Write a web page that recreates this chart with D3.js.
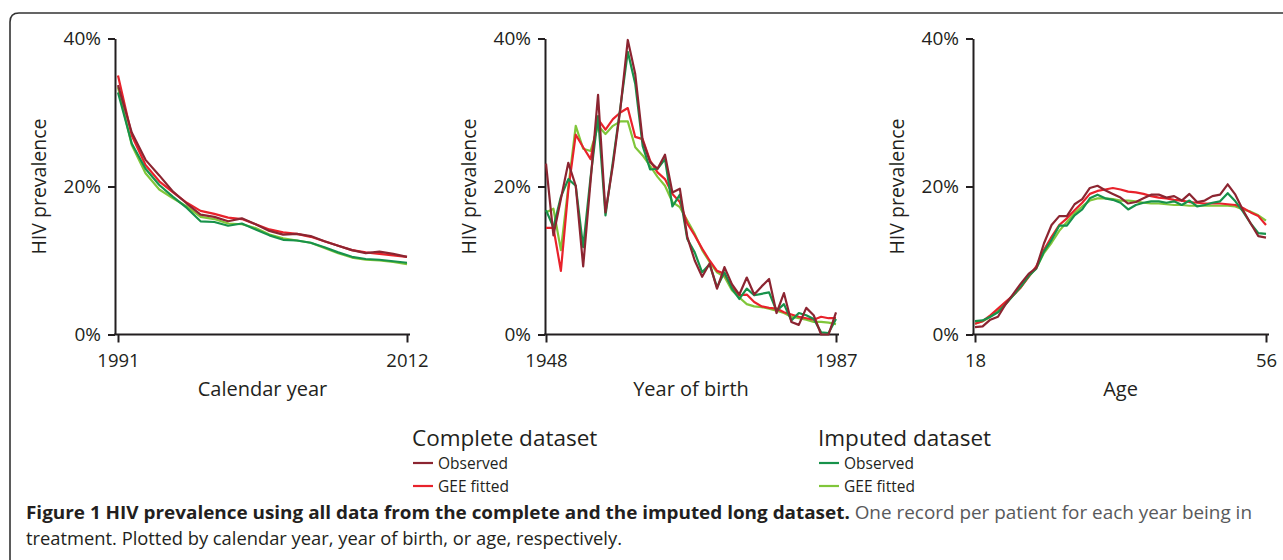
<!DOCTYPE html>
<html>
<head>
<meta charset="utf-8">
<script src="https://cdn.jsdelivr.net/npm/d3@7"></script>
<style>
  body { margin: 0; background: #fff; }
  svg { display: block; }
  text { font-family: "Open Sans", "Noto Sans", sans-serif; fill: #231f20; }
</style>
</head>
<body>
<svg id="chart"></svg>
<script>
// x categories
let calendarYears = d3.range(1991, 2013);
let birthYears = d3.range(1948, 1988);
let ages = d3.range(18, 57);

// HIV prevalence (%), by calendar year
let calObsComplete = [33.7, 27.3, 23.6, 21.5, 19.3, 17.7, 16.2, 15.9, 15.3, 15.7, 14.9, 14.0, 13.5, 13.6, 13.3, 12.6, 12.0, 11.4, 11.0, 11.2, 10.9, 10.5];
let calGeeComplete = [35.0, 26.9, 22.9, 20.7, 19.2, 17.8, 16.7, 16.3, 15.8, 15.6, 14.9, 14.2, 13.8, 13.6, 13.2, 12.6, 12.0, 11.4, 11.1, 10.9, 10.7, 10.5];
let calObsImputed = [32.7, 25.8, 22.4, 20.2, 18.6, 17.1, 15.3, 15.2, 14.7, 15.0, 14.2, 13.4, 12.8, 12.7, 12.4, 11.8, 11.1, 10.5, 10.2, 10.1, 9.9, 9.7];
let calGeeImputed = [33.4, 25.6, 21.8, 19.6, 18.4, 17.3, 15.9, 15.6, 15.0, 14.9, 14.4, 13.5, 13.0, 12.7, 12.4, 11.7, 11.0, 10.4, 10.1, 10.0, 9.8, 9.5];

// by year of birth
let birthObsComplete = [23.1, 13.4, 18.3, 23.2, 20.1, 9.2, 20.8, 32.4, 16.5, 22.9, 30.5, 39.8, 35.2, 26.2, 23.3, 22.4, 24.3, 19.2, 19.7, 13.2, 10.0, 7.8, 9.6, 6.2, 9.1, 6.8, 5.4, 7.7, 5.4, 6.5, 7.5, 2.9, 5.6, 1.7, 1.3, 3.6, 2.6, 0, 0, 3.0];
let birthGeeComplete = [14.4, 14.4, 8.6, 19.5, 27.0, 25.3, 23.7, 29.1, 27.7, 29.1, 30.0, 30.6, 26.7, 26.4, 23.5, 21.9, 21.0, 19.0, 17.9, 15.0, 13.4, 11.6, 10.0, 8.6, 8.2, 6.4, 5.3, 5.4, 4.4, 3.8, 3.6, 3.5, 3.0, 2.7, 2.4, 2.2, 2.0, 2.4, 2.2, 2.2];
let birthObsImputed = [16.8, 14.5, 18.6, 21.0, 20.1, 11.8, 21.3, 29.5, 16.1, 23.4, 30.7, 38.2, 33.9, 25.5, 22.3, 22.4, 23.7, 17.3, 18.9, 12.9, 11.1, 8.4, 9.5, 6.4, 8.4, 6.2, 4.8, 6.2, 5.3, 5.5, 5.7, 3.2, 4.1, 1.9, 2.9, 2.6, 2.1, 0.3, 0.2, 2.1];
let birthGeeImputed = [16.5, 17.0, 11.4, 19.9, 28.2, 25.1, 24.8, 28.2, 27.1, 28.2, 28.8, 28.8, 25.3, 24.2, 22.8, 21.3, 20.1, 17.9, 17.2, 15.4, 13.6, 11.4, 9.8, 8.4, 7.8, 6.0, 5.0, 4.1, 3.8, 3.7, 3.5, 3.2, 2.9, 2.4, 2.2, 2.0, 1.7, 1.7, 1.6, 1.4];

// by age
let ageObsComplete = [1.0, 1.1, 2.0, 2.4, 4.1, 5.5, 6.9, 8.2, 9.0, 12.3, 14.8, 16.0, 16.0, 17.6, 18.3, 19.8, 20.1, 19.5, 19.0, 18.5, 17.7, 17.9, 18.4, 18.9, 18.9, 18.5, 18.7, 18.1, 19.0, 17.9, 18.1, 18.7, 18.9, 20.3, 18.9, 16.8, 15.0, 13.3, 13.1];
let ageGeeComplete = [1.45, 1.8, 2.6, 3.5, 4.4, 5.3, 6.4, 7.8, 9.2, 11.4, 13.2, 14.8, 15.7, 16.8, 17.8, 19.0, 19.4, 19.6, 19.8, 19.6, 19.3, 19.2, 19.0, 18.7, 18.5, 18.4, 18.2, 18.1, 17.9, 17.8, 17.7, 17.7, 17.7, 17.6, 17.5, 17.1, 16.5, 16.0, 14.8];
let ageObsImputed = [1.8, 1.9, 2.4, 3.0, 4.1, 5.3, 6.5, 7.9, 8.9, 11.2, 12.8, 14.7, 14.7, 16.1, 16.9, 18.4, 18.9, 18.4, 18.2, 17.8, 16.9, 17.5, 17.8, 18.0, 18.0, 17.8, 18.0, 17.5, 18.1, 17.3, 17.5, 17.8, 18.0, 19.1, 18.0, 16.6, 15.0, 13.7, 13.6];
let ageGeeImputed = [1.45, 1.8, 2.4, 3.3, 4.2, 5.3, 6.4, 7.8, 9.0, 11.0, 12.4, 14.0, 15.2, 16.4, 17.3, 18.1, 18.4, 18.4, 18.3, 18.1, 18.1, 18.0, 17.8, 17.7, 17.7, 17.6, 17.5, 17.5, 17.4, 17.4, 17.4, 17.4, 17.4, 17.4, 17.3, 16.9, 16.6, 16.1, 15.4];

let yTicks = [0, 20, 40];
let xTitles = ["Calendar year", "Year of birth", "Age"];
let yTitle = "HIV prevalence";
let legendGroups = ["Complete dataset", "Imputed dataset"];
let legendItems = ["Observed", "GEE fitted"];
let captionBold = "Figure 1 HIV prevalence using all data from the complete and the imputed long dataset.";
let captionRest = " One record per patient for each year being in";
let captionLine2 = "treatment. Plotted by calendar year, year of birth, or age, respectively.";

let colors = {
  obsComplete: "#8c2531",
  geeComplete: "#e8222b",
  obsImputed: "#17924a",
  geeImputed: "#80c63a"
};

let width = 1283, height = 560;
let svg = d3.select("#chart")
  .attr("viewBox", [0, 0, width, height])
  .attr("width", width)
  .attr("height", height);

// frame
svg.append("path")
  .attr("d", "M10,575 L10,22 Q10,13 19,13 L1300,13")
  .attr("fill", "none")
  .attr("stroke", "#333")
  .attr("stroke-width", 1.6);

let panels = [
  { axisX: 115, range: [118, 407], xs: calendarYears, title: xTitles[0],
    series: [calGeeImputed, calGeeComplete, calObsImputed, calObsComplete] },
  { axisX: 545, range: [546, 836], xs: birthYears, title: xTitles[1],
    series: [birthGeeImputed, birthGeeComplete, birthObsImputed, birthObsComplete] },
  { axisX: 973, range: [975, 1266], xs: ages, title: xTitles[2],
    series: [ageGeeImputed, ageGeeComplete, ageObsImputed, ageObsComplete] }
];
let seriesColors = [colors.geeImputed, colors.geeComplete, colors.obsImputed, colors.obsComplete];

let y = d3.scaleLinear().domain([0, 40]).range([334.5, 38.5]);

panels.forEach(p => {
  let xs = p.xs;
  let x = d3.scaleLinear().domain([xs[0], xs[xs.length - 1]]).range(p.range);
  let g = svg.append("g");

  // y axis
  let yAxis = g.append("g")
    .attr("transform", "translate(" + p.axisX + ",0)")
    .call(d3.axisLeft(y).tickValues(yTicks).tickSize(7).tickSizeOuter(0).tickPadding(7)
      .tickFormat(d => d + "%"));
  yAxis.select(".domain").attr("stroke-width", 2).attr("stroke", "#231f20");
  yAxis.selectAll(".tick line").attr("stroke-width", 2).attr("stroke", "#231f20");
  yAxis.selectAll("text").style("font-size", "19px").attr("fill", "#231f20");

  // x axis
  let xAxis = g.append("g")
    .attr("transform", "translate(0,334.5)")
    .call(d3.axisBottom(x).tickValues([xs[0], xs[xs.length - 1]]).tickSize(8).tickPadding(11)
      .tickFormat(d3.format("d")));
  xAxis.select(".domain").remove();
  xAxis.selectAll(".tick line").attr("stroke-width", 2).attr("stroke", "#231f20");
  xAxis.selectAll("text").style("font-size", "18.5px").attr("fill", "#231f20");
  xAxis.append("line")
    .attr("x1", p.axisX - 1).attr("x2", p.range[1] + 3)
    .attr("stroke", "#231f20").attr("stroke-width", 2);

  // titles
  g.append("text")
    .attr("transform", "translate(" + (p.axisX - 69) + "," + y(20) + ") rotate(-90)")
    .attr("text-anchor", "middle")
    .style("font-size", "19.5px")
    .text(yTitle);
  g.append("text")
    .attr("x", (p.range[0] + p.range[1]) / 2)
    .attr("y", 396)
    .attr("text-anchor", "middle")
    .style("font-size", "20px")
    .text(p.title);

  // lines
  let line = d3.line().x((d, i) => x(xs[i])).y(d => y(d));
  p.series.forEach((s, k) => {
    g.append("path")
      .datum(s)
      .attr("d", line)
      .attr("fill", "none")
      .attr("stroke", seriesColors[k])
      .attr("stroke-width", 2.2)
      .attr("stroke-linejoin", "round");
  });
});

// legend
let legendX = [412, 818];
let legendColors = [[colors.obsComplete, colors.geeComplete], [colors.obsImputed, colors.geeImputed]];
legendGroups.forEach((name, j) => {
  let lg = svg.append("g").attr("transform", "translate(" + legendX[j] + ",0)");
  lg.append("text").attr("x", 0).attr("y", 446).style("font-size", "22.5px").text(name);
  legendItems.forEach((item, k) => {
    let yy = 463 + k * 23;
    lg.append("line").attr("x1", 1).attr("x2", 21).attr("y1", yy).attr("y2", yy)
      .attr("stroke", legendColors[j][k]).attr("stroke-width", 2.2);
    lg.append("text").attr("x", 26).attr("y", yy + 5.5).style("font-size", "15.5px").text(item);
  });
});

// caption
let cap1 = svg.append("text").attr("x", 26).attr("y", 519).style("font-size", "17.5px")
  .attr("textLength", 1226).attr("lengthAdjust", "spacingAndGlyphs");
cap1.append("tspan").style("font-weight", "bold").attr("fill", "#231f20").text(captionBold);
cap1.append("tspan").attr("fill", "#58595b").text(captionRest);
svg.append("text").attr("x", 26).attr("y", 545).style("font-size", "17.5px")
  .attr("fill", "#58595b")
  .attr("textLength", 596).attr("lengthAdjust", "spacingAndGlyphs")
  .text(captionLine2);
</script>
</body>
</html>
